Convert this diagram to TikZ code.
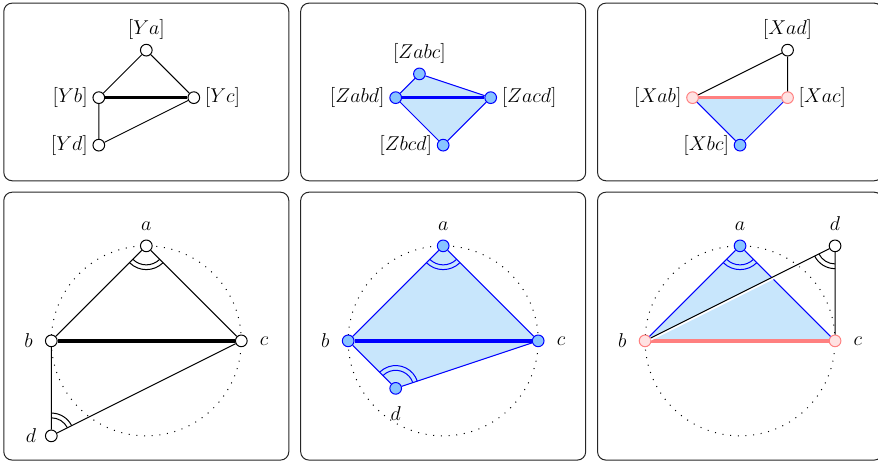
\documentclass[tikz,border=0pt,11pt]{standalone}
\usepackage{amsmath}
\usetikzlibrary{angles, backgrounds}
\definecolor{nodeblue}{HTML}{88C4FF}
\definecolor{areablue}{HTML}{C8E6FC}
\definecolor{salmon}{HTML}{FF8080}
\definecolor{blush}{HTML}{FFE2E2}

\begin{document}
\begin{tikzpicture}[font=\fontsize{12.5}{15}\selectfont,
    vtx/.style={circle, draw, fill=white, semithick, inner sep=0pt, minimum size=7pt},
    bvtx/.style={vtx, draw=blue, fill=nodeblue},
    pvtx/.style={vtx, draw=salmon, fill=blush},
    tup/.style={label distance=-1.5pt},
    tside/.style={label distance=-1pt},
    bup/.style={label distance=1.5pt},
    bside/.style={label distance=3.5pt},
    edge/.style={semithick},
    bedge/.style={semithick, blue},
    heavy/.style={line width=2pt},
    frame/.style={rounded corners=5pt, draw=black!85, line width=0.6pt},
    ring/.style={loosely dotted, semithick},
    ang/.style={draw, semithick, angle radius=#1},
  ]
    \useasboundingbox (0,0) rectangle (18.484, 9.726);

    %% ── Panel frames ─────────────────────────────────────────────────────
    \draw[frame] (0.08, 5.92) rectangle (6.08, 9.66);
    \draw[frame] (6.33, 5.92) rectangle (12.33, 9.66);
    \draw[frame] (12.58, 5.92) rectangle (18.58, 9.66);
    \draw[frame] (0.08, 0.04) rectangle (6.08, 5.68);
    \draw[frame] (6.33, 0.04) rectangle (12.33, 5.68);
    \draw[frame] (12.58, 0.04) rectangle (18.58, 5.68);

    %% ═══ Panel 1: Y graph ═════════════════════════════════════════════════
    \node[vtx, label={[tup]above:$[Ya]$}]    (Ya) at (3.08, 8.67) {};
    \node[vtx, label={[tside]left:$[Yb]$}]   (Yb) at (2.08, 7.67) {};
    \node[vtx, label={[tside]right:$[Yc]$}]  (Yc) at (4.08, 7.67) {};
    \node[vtx, label={[tside]left:$[Yd]$}]   (Yd) at (2.08, 6.67) {};

    \draw[edge] (Ya) -- (Yb) (Ya) -- (Yc) (Yb) -- (Yd) (Yd) -- (Yc);
    \draw[heavy] (Yb) -- (Yc);

    %% ═══ Panel 2: Z graph ═════════════════════════════════════════════════
    \node[bvtx, label={[tup]above:$[Zabc]$}]   (Zabc) at (8.83, 8.17) {};
    \node[bvtx, label={[tside]left:$[Zabd]$}]  (Zabd) at (8.33, 7.67) {};
    \node[bvtx, label={[tside]right:$[Zacd]$}] (Zacd) at (10.33, 7.67) {};
    \node[bvtx, label={[tside]left:$[Zbcd]$}]  (Zbcd) at (9.33, 6.67) {};

    \begin{scope}[on background layer]
      \fill[areablue] (Zabc.center) -- (Zacd.center) -- (Zbcd.center)
        -- (Zabd.center) -- cycle;
    \end{scope}
    \draw[bedge] (Zabc) -- (Zabd) (Zabc) -- (Zacd) (Zabd) -- (Zbcd) (Zbcd) -- (Zacd);
    \draw[heavy, blue] (Zabd) -- (Zacd);

    %% ═══ Panel 3: X graph ═════════════════════════════════════════════════
    \node[vtx,  label={[tup]above:$[Xad]$}]   (Xad) at (16.58, 8.67) {};
    \node[pvtx, label={[tside]left:$[Xab]$}]  (Xab) at (14.58, 7.67) {};
    \node[pvtx, label={[tside]right:$[Xac]$}] (Xac) at (16.58, 7.67) {};
    \node[bvtx, label={[tside]left:$[Xbc]$}]  (Xbc) at (15.58, 6.67) {};

    \begin{scope}[on background layer]
      \fill[areablue] (Xab.center) -- (Xac.center) -- (Xbc.center) -- cycle;
    \end{scope}
    \draw[edge] (Xad) -- (Xab) (Xad) -- (Xac);
    \draw[bedge] (Xab) -- (Xbc) (Xbc) -- (Xac);
    \draw[heavy, salmon] (Xab) -- (Xac);

    %% ═══ Panel 4: quadrilateral abcd ══════════════════════════════════════
    \coordinate (o1) at (3.08, 2.55);
    \draw[ring] (o1) circle (2);

    \node[vtx, label={[bup]above:$a$}]    (a1) at (3.08, 4.55) {};
    \node[vtx, label={[bside]left:$b$}]   (b1) at (1.08, 2.55) {};
    \node[vtx, label={[bside]right:$c$}]  (c1) at (5.08, 2.55) {};
    \node[vtx, label={[bup]left:$d$}]     (d1) at (1.08, 0.55) {};

    \draw[edge] (a1) -- (b1) (a1) -- (c1) (b1) -- (d1) (d1) -- (c1);
    \draw[heavy] (b1) -- (c1);
    \pic[ang=0.4cm] {angle = b1--a1--c1};
    \pic[ang=0.5cm] {angle = b1--a1--c1};
    \pic[ang=0.38cm] {angle = c1--d1--b1};
    \pic[ang=0.48cm] {angle = c1--d1--b1};

    %% ═══ Panel 5: d inside the circle ═════════════════════════════════════
    \coordinate (o2) at (9.33, 2.55);
    \draw[ring] (o2) circle (2);

    \node[bvtx, label={[bup]above:$a$}]   (a2) at (9.33, 4.55) {};
    \node[bvtx, label={[bside]left:$b$}]  (b2) at (7.33, 2.55) {};
    \node[bvtx, label={[bside]right:$c$}] (c2) at (11.33, 2.55) {};
    \node[bvtx, label={[bside]below:$d$}] (d2) at (8.33, 1.55) {};

    \begin{scope}[on background layer]
      \fill[areablue] (a2.center) -- (c2.center) -- (d2.center) -- (b2.center) -- cycle;
    \end{scope}
    \draw[bedge] (a2) -- (b2) (a2) -- (c2) (b2) -- (d2) (d2) -- (c2);
    \draw[heavy, blue] (b2) -- (c2);
    \pic[ang=0.4cm, blue] {angle = b2--a2--c2};
    \pic[ang=0.5cm, blue] {angle = b2--a2--c2};
    \pic[ang=0.38cm, blue] {angle = c2--d2--b2};
    \pic[ang=0.48cm, blue] {angle = c2--d2--b2};

    %% ═══ Panel 6: d outside the circle ════════════════════════════════════
    \coordinate (o3) at (15.58, 2.55);
    \draw[ring] (o3) circle (2);

    \node[bvtx, label={[bup]above:$a$}]   (a3) at (15.58, 4.55) {};
    \node[pvtx, label={[bside]left:$b$}]  (b3) at (13.58, 2.55) {};
    \node[pvtx, label={[bside]right:$c$}] (c3) at (17.58, 2.55) {};
    \node[vtx,  label={[bup]above:$d$}]   (d3) at (17.58, 4.55) {};

    \begin{scope}[on background layer]
      \fill[areablue] (a3.center) -- (b3.center) -- (c3.center) -- cycle;
    \end{scope}
    \draw[bedge] (a3) -- (b3) (a3) -- (c3);
    \draw[heavy, salmon] (b3) -- (c3);
    % white halo under the crossing chord
    \draw[white, line width=1.2pt, transform canvas={yshift=-0.9pt}] (b3) -- (d3);
    \draw[edge] (b3) -- (d3) (d3) -- (c3);
    \pic[ang=0.4cm, blue] {angle = b3--a3--c3};
    \pic[ang=0.5cm, blue] {angle = b3--a3--c3};
    \pic[ang=0.38cm] {angle = b3--d3--c3};
    \pic[ang=0.48cm] {angle = b3--d3--c3};

\end{tikzpicture}
\end{document}
